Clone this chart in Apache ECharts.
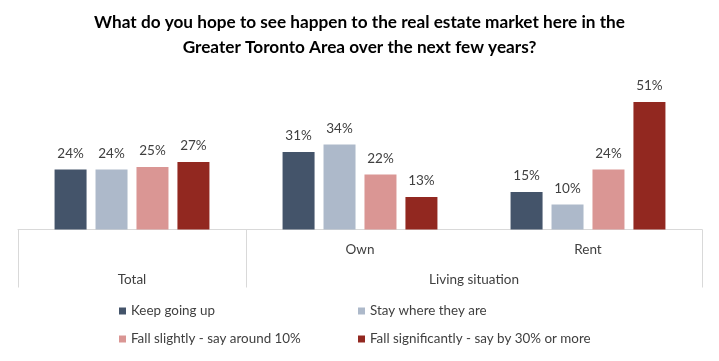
<!DOCTYPE html>
<html>
<head>
<meta charset="utf-8">
<script src="https://cdn.jsdelivr.net/npm/echarts@6/dist/echarts.min.js"></script>
<style>html,body{margin:0;padding:0;background:#fff}#chart{width:719px;height:361px}</style>
</head>
<body>
<div id="chart"></div>
<script>
const categories = ['Total', 'Own', 'Rent'];
const groupLabels = ['', 'Total', '', '', 'Living situation', '', ''];
const seriesNames = ['Keep going up', 'Stay where they are', 'Fall slightly - say around 10%', 'Fall significantly - say by 30% or more'];
const keepGoingUp = [24, 31, 15];
const stayWhere = [24, 34, 10];
const fallSlightly = [25, 22, 24];
const fallSignificantly = [27, 13, 51];
const colors = ['#44546A', '#ADB9CA', '#DA9694', '#922820'];
const values = [keepGoingUp, stayWhere, fallSlightly, fallSignificantly];

const font = 'Lato, "Open Sans", sans-serif';
const chart = echarts.init(document.getElementById('chart'), null, {renderer: 'canvas'});
chart.setOption({
  animation: false,
  backgroundColor: '#fff',
  title: {
    text: 'What do you hope to see happen to the real estate market here in the\nGreater Toronto Area over the next few years?',
    left: 'center', top: 10, padding: 0,
    textStyle: {fontFamily: font, fontWeight: 'bold', fontSize: 17.2, lineHeight: 25, color: '#000', align: 'center'}
  },
  legend: [
    {data: [seriesNames[0], seriesNames[2]], orient: 'vertical', left: 119, top: 304, padding: 0, icon: 'rect',
     itemWidth: 7, itemHeight: 7, itemGap: 14,
     textStyle: {fontFamily: font, fontSize: 13.4, lineHeight: 14, color: '#404040'}},
    {data: [seriesNames[1], seriesNames[3]], orient: 'vertical', left: 358, top: 304, padding: 0, icon: 'rect',
     itemWidth: 7, itemHeight: 7, itemGap: 14,
     textStyle: {fontFamily: font, fontSize: 13.4, lineHeight: 14, color: '#404040'}}
  ],
  grid: {left: 18, right: 17, top: 79.5, bottom: 131.5},
  xAxis: [
    {type: 'category', data: categories, position: 'bottom',
     axisLine: {show: true, lineStyle: {color: '#d9d9d9', width: 1}},
     axisTick: {show: false},
     axisLabel: {margin: 13, fontFamily: font, fontSize: 13.5, color: '#404040',
       formatter: v => v === 'Total' ? '' : v}},
    {type: 'category', data: groupLabels, boundaryGap: false, position: 'bottom',
     axisLine: {show: false},
     axisTick: {show: true, length: 58, interval: (i) => i === 0 || i === 2 || i === 6,
       lineStyle: {color: '#d9d9d9', width: 1}},
     axisLabel: {margin: 43, fontFamily: font, fontSize: 13.5, color: '#404040',
       interval: (i) => i === 1 || i === 4}}
  ],
  yAxis: {type: 'value', min: 0, max: 60, show: false, splitLine: {show: false}},
  series: seriesNames.map((name, k) => ({
    name, type: 'bar', xAxisIndex: 0, data: values[k],
    barWidth: 32, barGap: '28%',
    itemStyle: {color: colors[k]},
    label: {show: true, position: 'top', distance: 9, formatter: '{c}%',
      fontFamily: font, fontSize: 13.5, color: '#404040'}
  }))
});
</script>
</body>
</html>
